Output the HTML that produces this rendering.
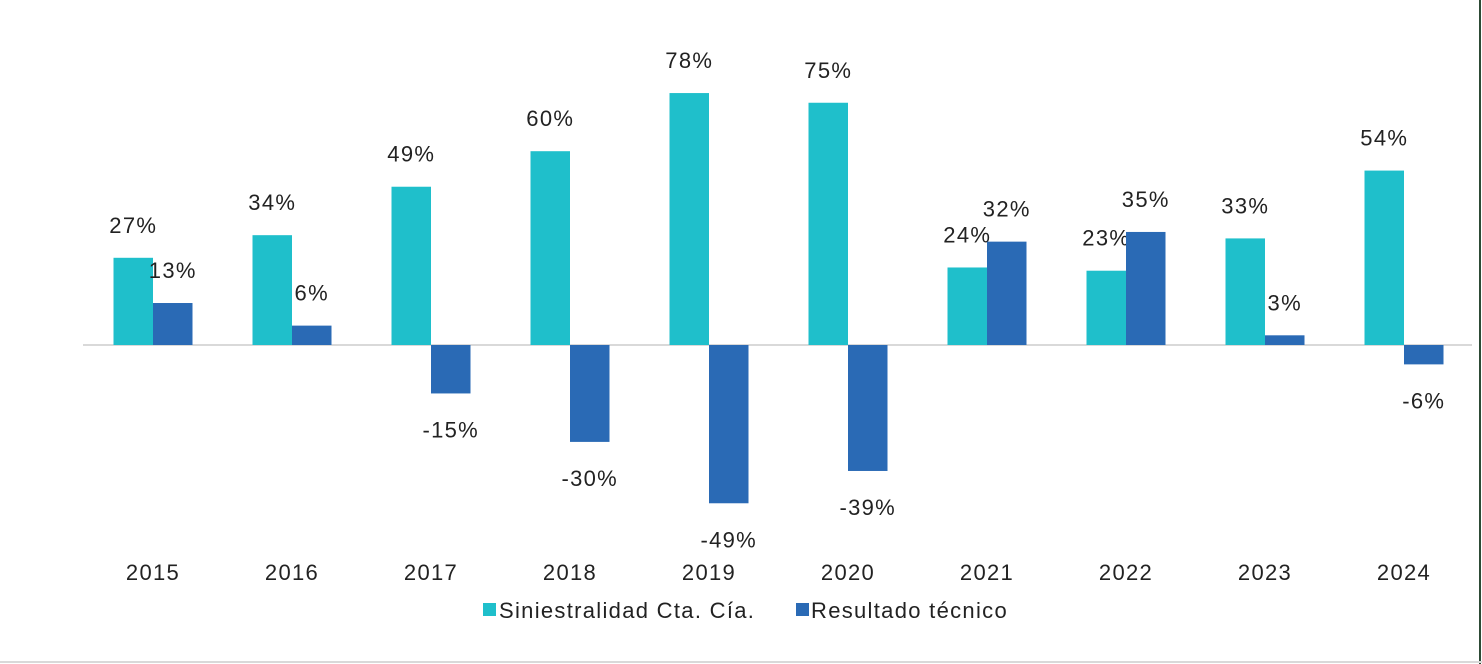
<!DOCTYPE html>
<html><head><meta charset="utf-8"><style>
body{margin:0;background:#fff;}
svg{display:block;font-family:"Liberation Sans",Arial,sans-serif;}
text{letter-spacing:1.3px;}
</style></head><body>
<svg id="c" width="1482" height="664">
<rect x="0" y="0" width="1482" height="664" fill="#fff"/>
<line x1="1480" y1="0" x2="1480" y2="664" stroke="#2d4a35" stroke-width="2"/>
<line x1="0" y1="662" x2="1482" y2="662" stroke="#d9d9d9" stroke-width="2"/>
<line x1="83" y1="345" x2="1472" y2="345" stroke="#d9d9d9" stroke-width="2"/>
<g id="bars"></g>
<g>
<rect x="483" y="603" width="13" height="13" fill="#1FBFCB"/>
<text x="499" y="618" font-size="22" fill="#222">Siniestralidad Cta. Cía.</text>
<rect x="796" y="603" width="13" height="13" fill="#2A6AB5"/>
<text x="811" y="618" font-size="22" fill="#222">Resultado técnico</text>
</g>
</svg>
<script>
const categories=["2015","2016","2017","2018","2019","2020","2021","2022","2023","2024"];
const siniestralidad=[27,34,49,60,78,75,24,23,33,54];
const resultado=[13,6,-15,-30,-49,-39,32,35,3,-6];
const NS="http://www.w3.org/2000/svg";
const g=document.getElementById('bars');
const y0=345, k=3.23;
function xc(i){return 153+139*i;}
function y(v){return y0-v*k;}
function el(t,a){const e=document.createElementNS(NS,t);for(const n in a)e.setAttribute(n,a[n]);g.appendChild(e);return e;}
categories.forEach((c,i)=>{
  const cx=xc(i),w=39.5;
  const s=siniestralidad[i];
  const r1=el('rect',{x:cx-w,y:y(s),width:w,height:y0-y(s),fill:'#1FBFCB'});
  
  
  const t1=el('text',{x:cx-w/2,y:y(s)-25,'font-size':22,fill:'#222','text-anchor':'middle'});
  t1.textContent=s+'%';
  
  
  const r=resultado[i];
  const top=Math.min(y(r),y0), h=Math.abs(y(r)-y0);
  const r2=el('rect',{x:cx,y:top,width:w,height:h,fill:'#2A6AB5'});
  
  
  const ty=r>=0?y(r)-25:y(r)+44;
  const t2=el('text',{x:cx+w/2,y:ty,'font-size':22,fill:'#222','text-anchor':'middle'});
  t2.textContent=r+'%';
  
  
  const t3=el('text',{x:cx,y:580,'font-size':22,fill:'#222','text-anchor':'middle'});
  t3.textContent=c;
  
  
});
</script>
</body></html>
